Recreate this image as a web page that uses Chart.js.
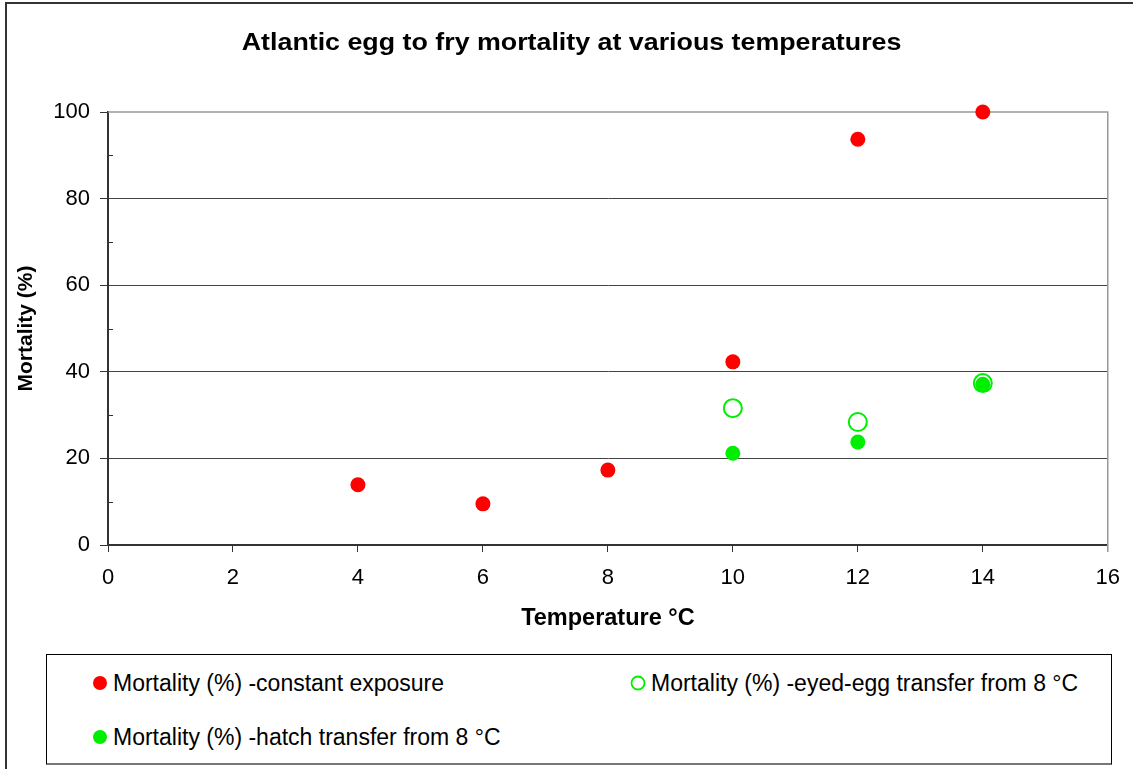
<!DOCTYPE html>
<html>
<head>
<meta charset="utf-8">
<script src="https://cdn.jsdelivr.net/npm/chart.js@4.4.1/dist/chart.umd.min.js"></script>
<style>
    html, body { margin: 0; padding: 0; background: #fff; }
    #wrap { position: relative; width: 1133px; height: 769px; overflow: hidden; font-family: 'Liberation Sans', Arial, sans-serif; }
    #frame { position: absolute; left: 5px; top: 2px; width: 1140px; height: 780px; border: 2px solid #333; box-sizing: border-box; }
    #title { position: absolute; left: 0; width: 1143px; top: 29px; text-align: center; font-weight: bold; font-size: 23px; color: #000; transform: scaleX(1.165); transform-origin: 571px 0; }
    #legend { position: absolute; left: 46px; top: 654px; width: 1066px; height: 111px; border: 1px solid #000; border-bottom: 2px solid #777; box-sizing: border-box; background: #fff; }
    .leg-item { position: absolute; font-size: 23px; color: #000; white-space: nowrap; line-height: 26px; }
    .leg-item canvas { position: absolute; left: -22px; top: 4px; }
    canvas#chart { position: absolute; left: 0; top: 0; }
</style>
</head>
<body>
<div id="wrap">
    <div id="frame"></div>
    <canvas id="chart" width="1133" height="769"></canvas>
    <div id="title">Atlantic egg to fry mortality at various temperatures</div>
    <div id="legend"></div>
</div>
<script>
// --- Data ---
const chartTitle = 'Atlantic egg to fry mortality at various temperatures';
const xTitle = 'Temperature °C';
const yTitle = 'Mortality (%)';

const constantTemps = [4, 6, 8, 10, 12, 14];
const constantMortality = [13.9, 9.5, 17.3, 42.3, 93.7, 100];

const eyedTemps = [10, 12, 14];
const eyedMortality = [31.6, 28.4, 37.4];

const hatchTemps = [10, 12, 14];
const hatchMortality = [21.2, 23.8, 37.1];

const seriesLabels = [
    'Mortality (%) -constant exposure',
    'Mortality (%) -eyed-egg transfer from 8 °C',
    'Mortality (%) -hatch transfer from 8 °C'
];

const xTicks = [0, 2, 4, 6, 8, 10, 12, 14, 16];
const yTicks = [0, 20, 40, 60, 80, 100];
const yMinorTicks = [10, 30, 50, 70, 90];

const FONT = "'Liberation Sans', Arial, sans-serif";

function toPoints(xs, ys) {
    return xs.map((x, i) => ({ x: x, y: ys[i] }));
}

// grey top/right plot border (under the points) + minor ticks inside the y axis
const plotExtras = {
    id: 'plotExtras',
    beforeDatasetsDraw(chart) {
        const ctx = chart.ctx;
        const a = chart.chartArea;
        const y = chart.scales.y;
        ctx.save();
        ctx.strokeStyle = '#999';
        ctx.lineWidth = 1.5;
        ctx.beginPath();
        ctx.moveTo(a.left, a.top);
        ctx.lineTo(a.right, a.top);
        ctx.lineTo(a.right, a.bottom + 7);
        ctx.stroke();
        ctx.strokeStyle = '#333';
        ctx.lineWidth = 1;
        yMinorTicks.forEach(v => {
            const py = Math.round(y.getPixelForValue(v)) + 0.5;
            ctx.beginPath();
            ctx.moveTo(a.left, py);
            ctx.lineTo(a.left + 5, py);
            ctx.stroke();
        });
        ctx.restore();
    }
};

const datasets = [
    {
        label: seriesLabels[0],
        data: toPoints(constantTemps, constantMortality),
        pointStyle: 'circle',
        pointRadius: 7.5,
        pointBackgroundColor: '#ff0000',
        pointBorderColor: '#ff0000',
        pointBorderWidth: 0,
        showLine: false
    },
    {
        label: seriesLabels[1],
        data: toPoints(eyedTemps, eyedMortality),
        pointStyle: 'circle',
        pointRadius: 9,
        pointBackgroundColor: 'rgba(0,0,0,0)',
        pointBorderColor: '#00ee00',
        pointBorderWidth: 2,
        showLine: false
    },
    {
        label: seriesLabels[2],
        data: toPoints(hatchTemps, hatchMortality),
        pointStyle: 'circle',
        pointRadius: 7.5,
        pointBackgroundColor: '#00ee00',
        pointBorderColor: '#00ee00',
        pointBorderWidth: 0,
        showLine: false
    }
];

new Chart(document.getElementById('chart'), {
    type: 'scatter',
    data: { datasets: datasets },
    plugins: [plotExtras],
    options: {
        responsive: false,
        animation: false,
        clip: false,
        layout: { padding: { left: 10, top: 112, right: 24, bottom: 132 } },
        plugins: {
            legend: { display: false },
            title: { display: false },
            tooltip: { enabled: false }
        },
        scales: {
            x: {
                type: 'linear',
                min: 0,
                max: 16,
                afterBuildTicks: s => { s.ticks = xTicks.map(v => ({ value: v })); },
                afterFit: s => { s.height = 92; },
                grid: { drawOnChartArea: false, drawTicks: true, tickLength: 7, color: '#333', tickColor: '#333' },
                border: { color: '#333', width: 2 },
                ticks: { color: '#000', padding: 13, font: { family: FONT, size: 22 } },
                title: { display: true, text: xTitle, color: '#000', padding: { top: 4, bottom: 4 }, font: { family: FONT, size: 23.5, weight: 'bold' } }
            },
            y: {
                type: 'linear',
                min: 0,
                max: 100,
                afterBuildTicks: s => { s.ticks = yTicks.map(v => ({ value: v })); },
                afterFit: s => { s.width = 98; },
                grid: {
                    drawTicks: true,
                    tickLength: 8,
                    color: c => (c.tick && c.tick.value === 100) ? 'rgba(0,0,0,0)' : '#444',
                    tickColor: '#333',
                    lineWidth: 1
                },
                border: { color: '#333', width: 2 },
                ticks: { color: '#000', padding: 10, font: { family: FONT, size: 22 } },
                title: { display: true, text: yTitle, color: '#000', padding: { top: 4, bottom: 4 }, font: { family: FONT, size: 21, weight: 'bold' } }
            }
        }
    }
});

// --- HTML legend built from the datasets ---
const legendPos = [
    { left: 66, top: 15 },
    { left: 604, top: 15 },
    { left: 66, top: 69 }
];
const legendBox = document.getElementById('legend');
datasets.forEach((d, i) => {
    const item = document.createElement('div');
    item.className = 'leg-item';
    item.style.left = legendPos[i].left + 'px';
    item.style.top = legendPos[i].top + 'px';
    item.textContent = d.label;
    const sw = document.createElement('canvas');
    sw.width = 18; sw.height = 18;
    const c = sw.getContext('2d');
    c.beginPath();
    if (d.pointBorderWidth > 0) {
        c.arc(9, 9, 6.5, 0, Math.PI * 2);
        c.strokeStyle = d.pointBorderColor;
        c.lineWidth = 1.8;
        c.stroke();
    } else {
        c.arc(9, 9, 7, 0, Math.PI * 2);
        c.fillStyle = d.pointBackgroundColor;
        c.fill();
    }
    item.appendChild(sw);
    legendBox.appendChild(item);
});
</script>
</body>
</html>
